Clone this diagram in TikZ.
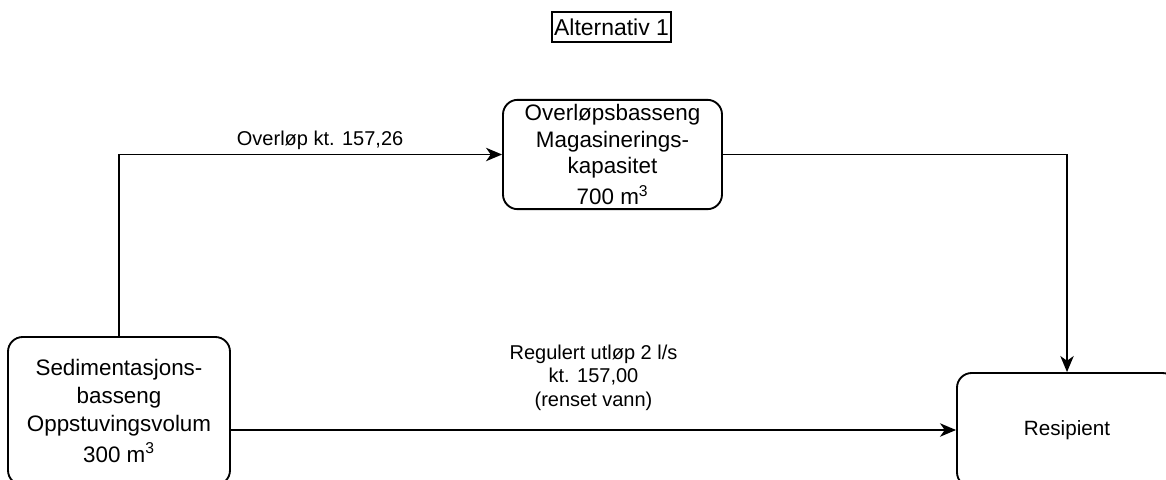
\documentclass[tikz,border=0pt]{standalone}
\usepackage{fontspec}
\setmainfont{Liberation Sans}
\usetikzlibrary{arrows.meta}

\begin{document}
\begin{tikzpicture}[x=0.75pt,y=-0.75pt,
        basin/.style={rectangle,rounded corners=11pt,draw=black,line width=1.4pt,align=center,
            font=\fontsize{16.8}{20}\selectfont},
        lbl/.style={align=center,inner sep=3pt,font=\fontsize{15}{17.5}\selectfont},
        arr/.style={line width=1.4pt,-{Stealth[length=12pt,width=10pt,inset=3.5pt]}}
        ]
        \clip (0,0) rectangle (1166,479);
        \node (title) [draw,line width=1pt,inner xsep=1.5pt,minimum height=22.5pt,font=\fontsize{17.2}{20}\selectfont] at (611.5,27) {Alternativ 1};
        \node (sed) [basin,minimum width=166.5pt,minimum height=111pt,font=\fontsize{16.8}{21}\selectfont] at (119,411)
            {Sedimentasjons-\\basseng\\Oppstuvingsvolum\\[2pt]300 m\textsuperscript{3}};
        \node (ovr) [basin,minimum width=164.25pt,minimum height=81.75pt] at (612.5,154.5)
            {Overløpsbasseng\\Magasinerings-\\kapasitet\\[3pt]700 m\textsuperscript{3}};
        \node (res) [basin,minimum width=165pt,minimum height=85.5pt,font=\fontsize{15.5}{19}\selectfont] at (1067,430)
            {Resipient};
        \draw[arr] (sed.north) |- node[lbl,above,pos=0.7625] {Overløp kt. 157,26} (ovr.west);
        \draw[arr] (ovr.east) -| (res.north);
        \draw[arr] (sed.east |- res.west) -- node[lbl,above,inner sep=14pt] {Regulert utløp 2 l/s\\kt. 157,00\\(renset vann)} (res.west);
    \end{tikzpicture}
\end{document}
